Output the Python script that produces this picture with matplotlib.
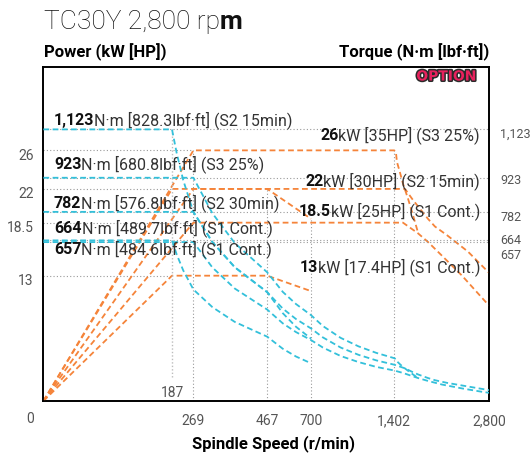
import numpy as np
import matplotlib
matplotlib.use('Agg')
import matplotlib.pyplot as plt
import matplotlib.patheffects as pe
from matplotlib.transforms import ScaledTranslation

plt.rcParams['font.family'] = ['Roboto', 'DejaVu Sans']

# ---- power curves (kW) ----
rpm_low = [0, 187, 467, 700]
kw_s2_15min = [0, 22, 22, 18.9]
kw_s1_low = [0, 13, 13, 11.4]

# S3 drops off after 1,402 and runs into the S1 curve
rpm_s3 = [0, 269, 1402, 1426, 1441, 1486, 1530, 1604, 1677, 1751]
kw_s3 = [0, 26, 26, 25.8, 24.8, 23.7, 22.55, 21.0, 19.3, 17.5]

rpm_s2_30 = [0, 269, 1560, 1662, 1751, 1899, 2002, 2180, 2489, 2800]
kw_s2_30 = [0, 22, 22, 21.0, 20.2, 18.9, 18.1, 17.2, 15.5, 13.3]

rpm_s1_high = [0, 269, 1530, 1751, 1899, 2106, 2402, 2697, 2800]
kw_s1_high = [0, 18.5, 18.5, 17.4, 16.5, 15.07, 13.0, 10.7, 9.9]

# ---- torque curves (N·m) ----
rpm_t_low = [0, 187, 205, 230, 269, 320, 380, 467, 550, 620, 700]
nm_s2_15min = [1123, 1123, 1025, 913, 781, 657, 553, 450, 363, 307, 258]
nm_s1_low = [664, 664, 606, 540, 461, 388, 327, 266, 216, 184, 156]

rpm_t_s3 = [0, 269, 320, 380, 467, 550, 620, 700, 800, 950, 1100, 1250, 1402,
            1426, 1441, 1486, 1530, 1604, 1677, 1751]
nm_s3 = [923, 923, 776, 653, 532, 451, 401, 355, 310, 261, 226, 199, 177,
         173, 164, 152, 141, 125, 110, 95]

rpm_t_s2_30 = [0, 269, 320, 380, 467, 550, 620, 700, 800, 950, 1100, 1250, 1402,
               1560, 1662, 1751, 1899, 2002, 2180, 2489, 2800]
nm_s2_30 = [782, 782, 657, 553, 450, 382, 339, 300, 263, 221, 191, 168, 150,
            135, 121, 110, 95, 86, 75, 60, 45]

rpm_t_s1_high = [0, 269, 320, 380, 467, 550, 620, 700, 800, 950, 1100, 1250, 1402,
                 1530, 1751, 1899, 2106, 2402, 2697, 2800]
nm_s1_high = [657, 657, 552, 465, 378, 321, 285, 252, 221, 186, 161, 141, 126,
              116, 95, 83, 68, 52, 38, 34]

# ticks / labels
speed_ticks = [269, 467, 700, 1402, 2800]
speed_labels = ['269', '467', '700', '1,402', '2,800']
power_ticks = [26, 22, 18.5, 13]
power_labels = ['26', '22', '18.5', '13']
torque_ticks = [1123, 923, 782, 664, 657]
torque_labels = ['1,123', '923', '782', '664', '657']

torque_texts = [('1,123', 'N·m [828.3lbf·ft] (S2 15min)'),
                ('923', 'N·m [680.8lbf·ft] (S3 25%)'),
                ('782', 'N·m [576.8lbf·ft] (S2 30min)'),
                ('664', 'N·m [489.7lbf·ft] (S1 Cont.)'),
                ('657', 'N·m [484.6lbf·ft] (S1 Cont.)')]
power_texts = [('26', 'kW [35HP] (S3 25%)'),
               ('22', 'kW [30HP] (S2 15min)'),
               ('18.5', 'kW [25HP] (S1 Cont.)'),
               ('13', 'kW [17.4HP] (S1 Cont.)')]

ORANGE = '#f5843a'
CYAN = '#33c0da'
GRID = '#9a9a9a'

W, H = 532, 456
fig = plt.figure(figsize=(W / 100, H / 100), dpi=100)
ax = fig.add_axes([43.4 / W, 1 - 402 / H, 445.6 / W, 334.5 / H])

# the speed axis is stretched piece by piece, like the original sheet
knots = [-1000, 0, 187, 269, 467, 700, 1402, 2800, 4200]
knot_pos = [-700, 0, 128.6, 150, 223.8, 267.6, 350.9, 445.6, 540.5]


def fwd(x):
    return np.interp(x, knots, knot_pos)


def inv(p):
    return np.interp(p, knot_pos, knots)


ax.set_xscale('function', functions=(fwd, inv))
ax2 = ax.twinx()

ls = (0, (3.2, 1.9))
# power (orange)
for xs, ys in [(rpm_s3, kw_s3), (rpm_s2_30, kw_s2_30), (rpm_s1_high, kw_s1_high),
               (rpm_low, kw_s2_15min), (rpm_low, kw_s1_low)]:
    ax.plot(xs, ys, color=ORANGE, lw=1.3, ls=ls, zorder=3)

# guides
ax.hlines(power_ticks, 0, [269, 187, 269, 187], color=GRID, lw=0.8, ls=(0, (1, 2)), zorder=1)
ax.vlines([269, 467, 700, 1402], 0, [26, 22, 18.9, 26], color=GRID, lw=0.8, ls=(0, (1, 2)), zorder=1)
ax2.hlines(torque_ticks, 0, 2800, color=GRID, lw=0.8, ls=(0, (1, 2)), zorder=1)
ax2.vlines(187, 99, 1123, color='#bdbdbd', lw=1.0, ls=(0, (1, 1.5)), zorder=1)

# torque (cyan)
for xs, ys in [(rpm_t_low, nm_s2_15min), (rpm_t_low, nm_s1_low), (rpm_t_s3, nm_s3),
               (rpm_t_s2_30, nm_s2_30), (rpm_t_s1_high, nm_s1_high)]:
    ax2.plot(xs, ys, color=CYAN, lw=1.3, ls=ls, zorder=3)

ax.set_xlim(0, 2800)
ax.set_ylim(0, 34.7)
ax2.set_ylim(0, 1383)

ax.set_xticks(speed_ticks)
ax.set_xticklabels(speed_labels)
ax.set_yticks(power_ticks)
ax.set_yticklabels(power_labels)
ax2.set_yticks(torque_ticks)
ax2.set_yticklabels(torque_labels)
ax.xaxis.set_minor_locator(plt.NullLocator())
ax.tick_params(axis='x', length=0, pad=9, labelsize=10, labelcolor='#555555')
ax.tick_params(axis='y', length=0, pad=7, labelsize=10, labelcolor='#555555')
ax2.tick_params(axis='y', length=0, pad=8, labelsize=9, labelcolor='#555555')

for lab in ax.get_yticklabels():
    lab.set_transform(lab.get_transform() + ScaledTranslation(0, -3 / 100, fig.dpi_scale_trans))
shift = {'657': -11, '664': 2, '1,123': -2, '782': -3}
for lab in ax2.get_yticklabels():
    d = shift.get(lab.get_text(), 0)
    lab.set_transform(lab.get_transform() + ScaledTranslation(0, d / 100, fig.dpi_scale_trans))

for s in ax.spines.values():
    s.set_linewidth(1.2)
for s in ax2.spines.values():
    s.set_linewidth(1.2)


def fx(px):
    return px / W


def fy(py):
    return 1 - py / H


renderer = fig.canvas.get_renderer()


def two_part(x, y, bold, rest, ha='left', size=11.5):
    if ha == 'left':
        t = fig.text(fx(x), fy(y), bold, fontsize=size, fontweight='bold', va='baseline', color='#111111')
        w = t.get_window_extent(renderer).width
        fig.text(fx(x + w), fy(y), rest, fontsize=size, va='baseline', color='#333333')
    else:
        t = fig.text(fx(x), fy(y), rest, fontsize=size, va='baseline', ha='right', color='#333333')
        w = t.get_window_extent(renderer).width
        fig.text(fx(x - w), fy(y), bold, fontsize=size, fontweight='bold', va='baseline', ha='right',
                 color='#111111')


for (b, r), yb in zip(torque_texts, [125, 169, 208, 233.5, 254]):
    two_part(54, yb, b, r)
for (b, r), yb in zip(power_texts, [140.5, 186, 216.5, 272.5]):
    two_part(480, yb, b, r, ha='right')

# title with the bold m
t = fig.text(fx(44), fy(28.8), 'TC30Y 2,800 rp', fontsize=19, fontweight='light', va='baseline', color='#111111')
w = t.get_window_extent(renderer).width
fig.text(fx(44 + w), fy(28.8), 'm', fontsize=19, fontweight='bold', va='baseline', color='#111111')

fig.text(fx(44), fy(57.7), 'Power (kW [HP])', fontsize=12, fontweight='bold', va='baseline')
fig.text(fx(489), fy(57.7), 'Torque (N·m [lbf·ft])', fontsize=12, fontweight='bold', va='baseline', ha='right')
fig.text(fx(273), fy(443.6), 'Spindle Speed (r/min)', fontsize=12, fontweight='bold', va='center', ha='center')

fig.text(fx(30), fy(419), '0', fontsize=10, color='#555555', va='center', ha='center')
fig.text(fx(172), fy(393.5), '187', fontsize=10, color='#555555', va='center', ha='center')

fig.text(fx(446.5), fy(77.5), 'OPTION', fontsize=10, fontweight='heavy', color='#e8215d',
         family='DejaVu Sans', ha='center', va='center',
         path_effects=[pe.withStroke(linewidth=2.2, foreground='#2a2a2a')])

fig.savefig('out.png', dpi=100)
